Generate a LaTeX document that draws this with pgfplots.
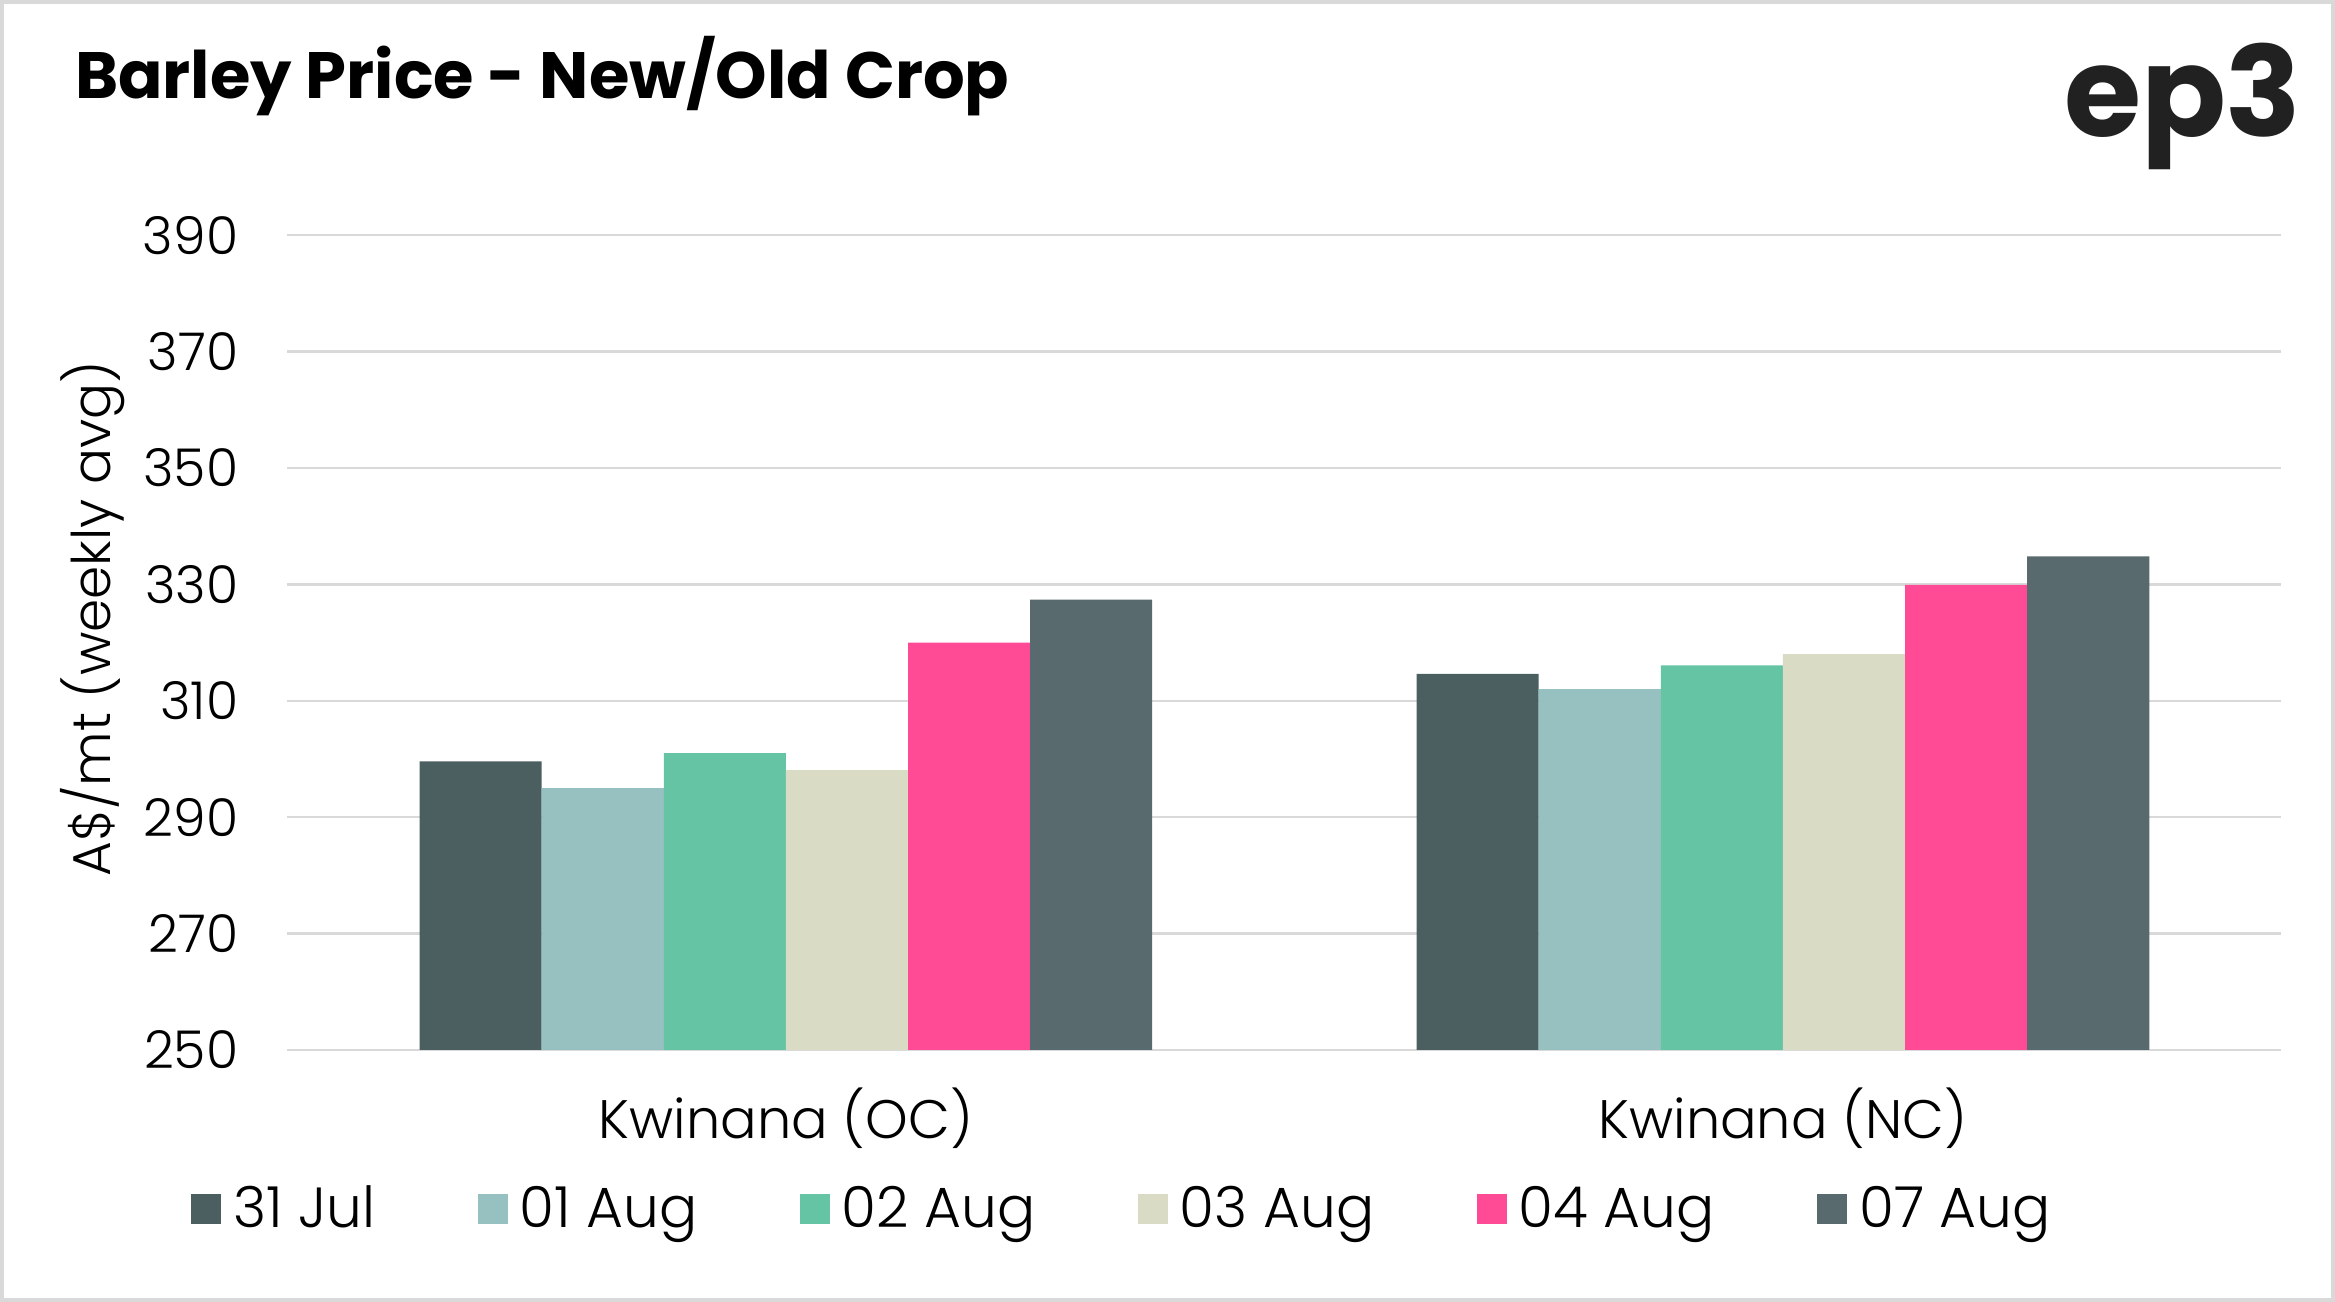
\documentclass[border=0pt]{standalone}
\usepackage{fontspec}
\setmainfont{Poppins}[UprightFont={* Light}, BoldFont={* SemiBold}]
\newfontfamily\titlefont{Poppins}[UprightFont={* Bold}]
\usepackage{pgfplots}
\pgfplotsset{compat=1.18}
\definecolor{cJul}{HTML}{4B5E60}
\definecolor{cAa}{HTML}{97C1C0}
\definecolor{cAb}{HTML}{64C4A4}
\definecolor{cAc}{HTML}{D9DBC5}
\definecolor{cAd}{HTML}{FF4B96}
\definecolor{cAe}{HTML}{586A6D}
\definecolor{gridgray}{HTML}{D9D9D9}
\pgfplotsset{
  sq/.style={legend image code/.code={\fill[##1] (0pt,-5pt) rectangle (10pt,5pt); \path (12pt,0pt);}},
}
\begin{document}
\begin{tikzpicture}
  \draw[gridgray, line width=1.2pt] (0.6pt,0.6pt) rectangle (783.4pt,436.4pt);
  \node[anchor=base west, inner sep=0pt, font=\titlefont\fontsize{22}{25}\selectfont] at (25pt,404pt) {Barley Price - New/Old Crop};
  \node[anchor=base east, inner sep=0pt, text=black!87, font=\titlefont\fontsize{42}{48}\selectfont] at (773pt,391pt) {ep3};
  \begin{axis}[
    at={(96.5pt,84.5pt)}, anchor=south west,
    scale only axis,
    width=669.5pt, height=273.5pt,
    ybar=0pt, bar width=41pt,
    xmin=-0.5, xmax=1.5,
    ymin=250, ymax=390,
    ytick={250,270,...,390},
    xtick={0,1},
    xticklabels={Kwinana (OC),Kwinana (NC)},
    axis line style={draw=none},
    major tick style={draw=none},
    ymajorgrids=true,
    grid style={gridgray, line width=0.8pt},
    yticklabel style={font=\fontsize{17.5}{20}\selectfont, xshift=-13pt},
    xticklabel style={font=\fontsize{18.2}{21}\selectfont, yshift=-5pt},
    /pgf/number format/assume math mode=true,
    ylabel={A\$/mt (weekly avg)},
    ylabel style={font=\fontsize{17.9}{20}\selectfont, at={(rel axis cs:0,0.5)}, yshift=65.5pt, xshift=8pt, anchor=center},
    legend columns=6,
    legend style={draw=none, fill=none, inner sep=0pt, at={(rel axis cs:-0.0485,-0.1956)}, anchor=west,
      font=\fontsize{19}{22}\selectfont,
      /tikz/every even column/.append style={column sep=32.5pt}},
    legend cell align=left,
  ]
    \addplot[fill=cJul, draw=none, sq] coordinates {(0,299.6) (1,314.6)};
    \addlegendentry{31 Jul}
    \addplot[fill=cAa, draw=none, sq] coordinates {(0,295.0) (1,312.0)};
    \addlegendentry{01 Aug}
    \addplot[fill=cAb, draw=none, sq] coordinates {(0,301.0) (1,316.1)};
    \addlegendentry{02 Aug}
    \addplot[fill=cAc, draw=none, sq] coordinates {(0,298.1) (1,318.0)};
    \addlegendentry{03 Aug}
    \addplot[fill=cAd, draw=none, sq] coordinates {(0,320.0) (1,329.9)};
    \addlegendentry{04 Aug}
    \addplot[fill=cAe, draw=none, sq] coordinates {(0,327.4) (1,334.8)};
    \addlegendentry{07 Aug}
  \end{axis}
\end{tikzpicture}
\end{document}
